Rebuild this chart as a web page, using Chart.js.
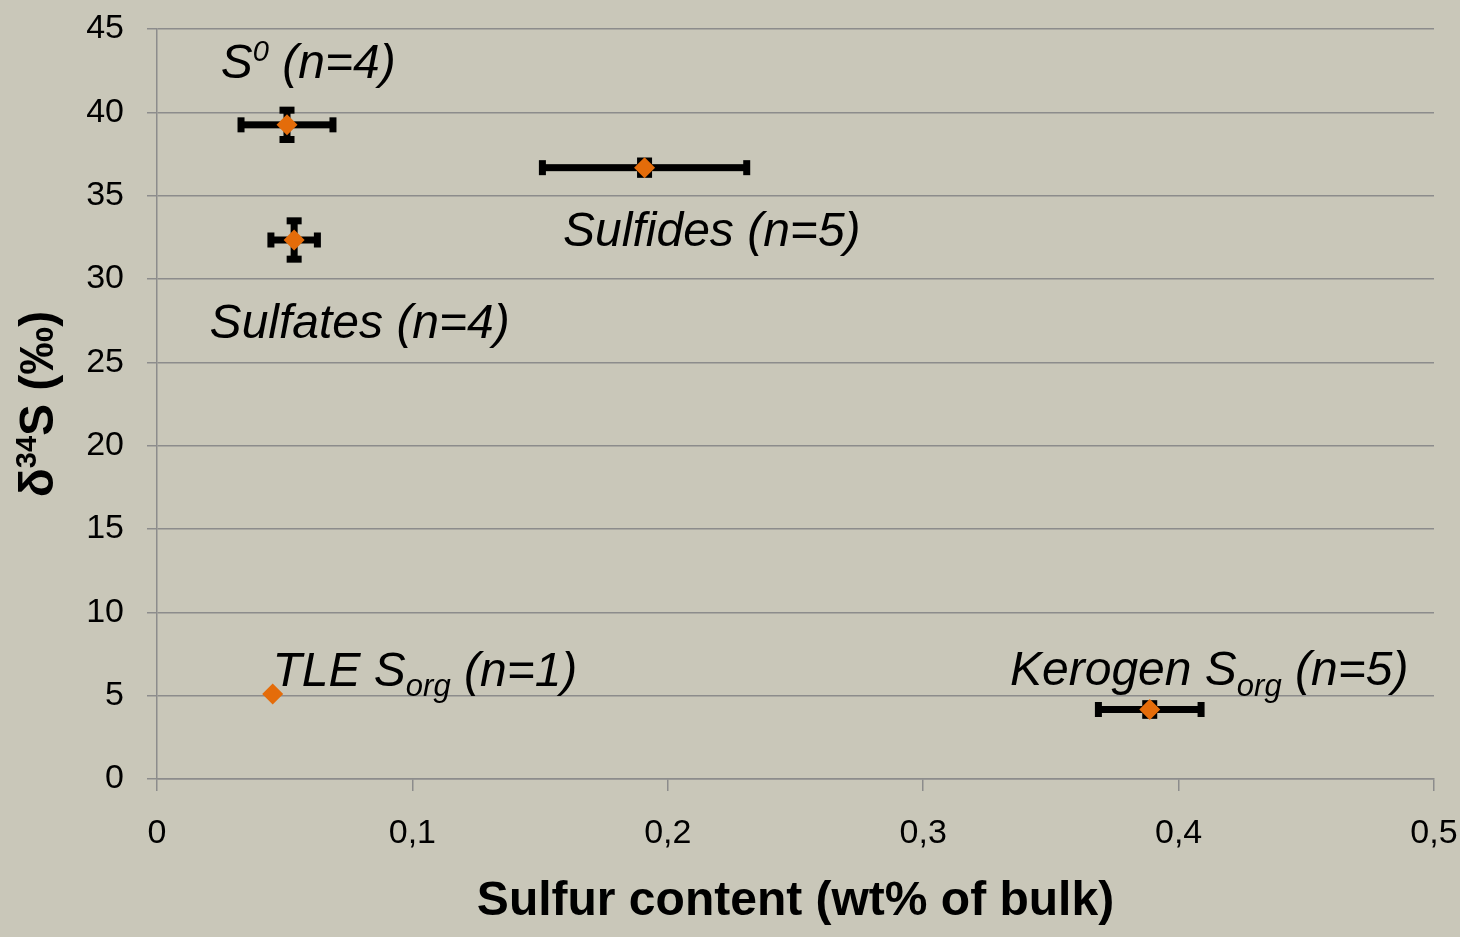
<!DOCTYPE html>
<html>
<head>
<meta charset="utf-8">
<script src="https://cdn.jsdelivr.net/npm/chart.js@4.4.1/dist/chart.umd.min.js"></script>
<style>
  html, body { margin: 0; padding: 0; background: #c9c7b9; }
  #wrap { width: 1460px; height: 937px; }
</style>
</head>
<body>
<div id="wrap"><canvas id="chart" width="1460" height="937"></canvas></div>
<script>
// Sulfur pools: mean sulfur content (wt% of bulk) and mean δ34S (‰), with ±1σ spreads
const groups        = ['S0', 'Sulfates', 'Sulfides', 'TLE Sorg', 'Kerogen Sorg'];
const sulfurContent = [0.0509, 0.0537, 0.1909, 0.0453, 0.3887];
const delta34S      = [39.25, 32.34, 36.68, 5.10, 4.17];
const sulfurErr     = [0.0180, 0.0091, 0.0400, 0, 0.0201];
const delta34SErr   = [0.88, 1.15, 0.40, 0, 0.35];

const xTickValues = [0, 0.1, 0.2, 0.3, 0.4, 0.5];
const yTickValues = [0, 5, 10, 15, 20, 25, 30, 35, 40, 45];

const xTitle = 'Sulfur content (wt% of bulk)';
const yTitleRuns = [['δ'], ['34', 'sup'], ['S (‰)']];

// Group labels: text runs (plain / superscript / subscript) placed at a data-space anchor
const groupLabels = [
  { at: [0.0250, 42.06], runs: [['S'], ['0', 'sup'], [' (n=4)']] },
  { at: [0.0206, 26.46], runs: [['Sulfates (n=4)']] },
  { at: [0.1590, 31.96], runs: [['Sulfides (n=5)']] },
  { at: [0.0452, 5.60],  runs: [['TLE S'], ['org', 'sub'], [' (n=1)']] },
  { at: [0.3340, 5.64],  runs: [['Kerogen S'], ['org', 'sub'], [' (n=5)']] }
];

const FONT = '"Liberation Sans", Arial, Helvetica, sans-serif';
const BG = '#c9c7b9';
const GRID = '#8c8c8c';
const MARKER = '#e46c0a';

function fmtTick(v) {
  return v === 0 ? '0' : v.toFixed(1).replace('.', ',');
}

// Draws a sequence of runs starting at (0,0) in the current transform; returns width
function drawRuns(ctx, runs, size, style, measureOnly) {
  let cx = 0;
  for (const [text, kind] of runs) {
    let s = size, dy = 0;
    if (kind === 'sup') { s = Math.round(size * 0.6); dy = -size * 0.36; }
    if (kind === 'sub') { s = Math.round(size * 0.65); dy = size * 0.22; }
    ctx.font = `${style} ${s}px ${FONT}`;
    if (!measureOnly) ctx.fillText(text, cx, dy);
    cx += ctx.measureText(text).width;
  }
  return cx;
}

const backgroundPlugin = {
  id: 'bg',
  beforeDraw(chart) {
    const ctx = chart.ctx;
    ctx.save();
    ctx.fillStyle = BG;
    ctx.fillRect(0, 0, chart.width, chart.height);
    ctx.restore();
  }
};

const errorBarPlugin = {
  id: 'errorBars',
  beforeDatasetsDraw(chart) {
    const ctx = chart.ctx;
    const xs = chart.scales.x, ys = chart.scales.y;
    const barW = 7, capW = 7, capL = 15;
    ctx.save();
    ctx.fillStyle = '#000';
    for (let i = 0; i < groups.length; i++) {
      const px = xs.getPixelForValue(sulfurContent[i]);
      const py = ys.getPixelForValue(delta34S[i]);
      if (sulfurErr[i] > 0) {
        const x0 = xs.getPixelForValue(sulfurContent[i] - sulfurErr[i]);
        const x1 = xs.getPixelForValue(sulfurContent[i] + sulfurErr[i]);
        ctx.fillRect(x0, py - barW / 2, x1 - x0, barW);
        ctx.fillRect(x0 - capW / 2, py - capL / 2, capW, capL);
        ctx.fillRect(x1 - capW / 2, py - capL / 2, capW, capL);
      }
      if (delta34SErr[i] > 0) {
        const y0 = ys.getPixelForValue(delta34S[i] + delta34SErr[i]);
        const y1 = ys.getPixelForValue(delta34S[i] - delta34SErr[i]);
        ctx.fillRect(px - barW / 2, y0, barW, y1 - y0);
        ctx.fillRect(px - capL / 2, y0 - capW / 2, capL, capW);
        ctx.fillRect(px - capL / 2, y1 - capW / 2, capL, capW);
      }
    }
    ctx.restore();
  }
};

const textPlugin = {
  id: 'texts',
  afterDraw(chart) {
    const ctx = chart.ctx;
    const xs = chart.scales.x, ys = chart.scales.y;
    const area = chart.chartArea;
    ctx.save();
    ctx.fillStyle = '#000';
    ctx.textBaseline = 'alphabetic';
    ctx.textAlign = 'left';

    // group labels
    for (const lab of groupLabels) {
      ctx.save();
      ctx.translate(xs.getPixelForValue(lab.at[0]), ys.getPixelForValue(lab.at[1]));
      drawRuns(ctx, lab.runs, 48, 'italic', false);
      ctx.restore();
    }

    // x-axis title
    ctx.font = `bold 48px ${FONT}`;
    const tw = ctx.measureText(xTitle).width;
    ctx.fillText(xTitle, (area.left + area.right) / 2 - tw / 2, 915);

    // y-axis title (rotated)
    ctx.save();
    ctx.translate(53, (area.top + area.bottom) / 2);
    ctx.rotate(-Math.PI / 2);
    const w = drawRuns(ctx, yTitleRuns, 48, 'bold', true);
    ctx.translate(-w / 2, 0);
    drawRuns(ctx, yTitleRuns, 48, 'bold', false);
    ctx.restore();

    ctx.restore();
  }
};

new Chart(document.getElementById('chart'), {
  type: 'scatter',
  data: {
    datasets: [{
      label: 'δ34S',
      data: groups.map((g, i) => ({ x: sulfurContent[i], y: delta34S[i] })),
      pointStyle: 'rectRot',
      pointRadius: 10.5,
      pointBackgroundColor: MARKER,
      pointBorderColor: MARKER,
      pointBorderWidth: 0,
      showLine: false
    }]
  },
  options: {
    responsive: false,
    animation: false,
    layout: { padding: { left: 0, right: 26, top: 29, bottom: 0 } },
    plugins: { legend: { display: false }, tooltip: { enabled: false } },
    scales: {
      x: {
        type: 'linear', min: 0, max: 0.5,
        afterBuildTicks: s => { s.ticks = xTickValues.map(v => ({ value: v })); },
        afterFit: s => { s.height = 158; s.paddingLeft = 0; s.paddingRight = 0; },
        ticks: {
          font: { family: FONT, size: 34 }, color: '#000', padding: 22,
          maxRotation: 0, autoSkip: false, callback: v => fmtTick(v)
        },
        grid: { drawOnChartArea: false, drawTicks: true, tickLength: 12, color: GRID, lineWidth: 1.5 },
        border: { color: GRID, width: 1.5 }
      },
      y: {
        type: 'linear', min: 0, max: 45,
        afterBuildTicks: s => { s.ticks = yTickValues.map(v => ({ value: v })); },
        afterFit: s => { s.width = 157; s.paddingTop = 0; s.paddingBottom = 0; },
        ticks: { font: { family: FONT, size: 34 }, color: '#000', padding: 23, autoSkip: false },
        grid: { color: GRID, lineWidth: 1.5, tickLength: 10 },
        border: { color: GRID, width: 1.5 }
      }
    }
  },
  plugins: [backgroundPlugin, errorBarPlugin, textPlugin]
});
</script>
</body>
</html>
